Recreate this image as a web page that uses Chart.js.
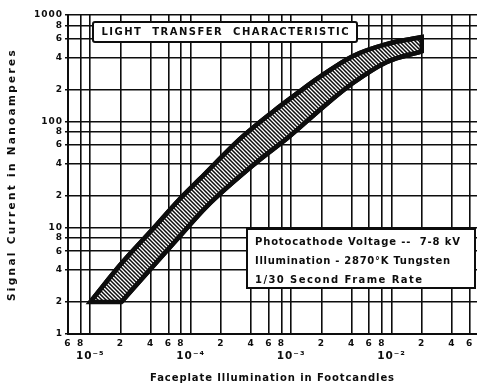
<!DOCTYPE html>
<html><head><meta charset="utf-8">
<script src="https://cdn.jsdelivr.net/npm/chart.js@4/dist/chart.umd.min.js"></script>
<style>html,body{margin:0;padding:0;background:#fff;}#wrap{width:477px;height:385px;position:relative;}</style>
</head><body><div id="wrap"><canvas id="c" width="477" height="385"></canvas></div>
<script>
// ---- data ----
const xTickValues = [6e-6, 8e-6, 1e-5, 2e-5, 4e-5, 6e-5, 8e-5, 1e-4, 2e-4, 4e-4, 6e-4, 8e-4, 1e-3, 2e-3, 4e-3, 6e-3, 8e-3, 1e-2, 2e-2, 4e-2, 6e-2];
const yTickValues = [1, 2, 4, 6, 8, 10, 20, 40, 60, 80, 100, 200, 400, 600, 800, 1000];
const upperX = [1.0e-5, 2.08e-5, 4.15e-5, 7.7e-5, 1.22e-4, 3.06e-4, 6.5e-4, 1.3e-3, 1.79e-3, 4.1e-3, 8.9e-3, 2.0e-2];
const upperY = [2, 4.7, 9.6, 18.4, 28.4, 67.7, 122, 200, 249, 410, 532, 620];
const lowerX = [2.04e-5, 4.55e-5, 7.7e-5, 1.44e-4, 4.5e-4, 9.6e-4, 2.06e-3, 4.1e-3, 8.9e-3, 2.0e-2];
const lowerY = [2, 4.7, 8.2, 15.8, 41, 72, 135, 228, 360, 455];
const chartTitle = 'LIGHT  TRANSFER  CHARACTERISTIC';
const noteLines = ['Photocathode Voltage --  7-8 kV', 'Illumination - 2870\u00B0K Tungsten', '1/30 Second Frame Rate'];
const xTitle = 'Faceplate Illumination in Footcandles';
const yTitle = 'Signal Current in Nanoamperes';
const supers = {'-':'\u207B','0':'\u2070','1':'\u00B9','2':'\u00B2','3':'\u00B3','4':'\u2074','5':'\u2075','6':'\u2076','7':'\u2077','8':'\u2078','9':'\u2079'};

const FONT = '"DejaVu Sans", sans-serif';
const INK = '#0d0d0d';

function mant(v){ const e = Math.floor(Math.log10(v) + 1e-9); return {e, m: Math.round(v / Math.pow(10, e))}; }

function hatch(ctx){
  const c = document.createElement('canvas'); c.width = 4; c.height = 4;
  const g = c.getContext('2d');
  g.fillStyle = INK; g.fillRect(0,0,4,4);
  g.strokeStyle = '#fff'; g.lineWidth = 1.3; g.beginPath();
  g.moveTo(-1,-1); g.lineTo(5,5); g.moveTo(-1,3); g.lineTo(1,5); g.moveTo(3,-1); g.lineTo(5,1);
  g.stroke();
  return ctx.createPattern(c, 'repeat');
}

function spacedTitle(scale, target){
  if (scale._spacedWrapped) return;
  const orig = scale.drawTitle.bind(scale);
  scale.drawTitle = function(){
    const ctx = this.ctx, o = this.options.title;
    ctx.save();
    ctx.font = `${o.font.weight} ${o.font.size}px ${o.font.family}`;
    ctx.letterSpacing = '0px';
    const w = ctx.measureText(o.text).width;
    ctx.restore();
    const prev = ctx.letterSpacing;
    ctx.letterSpacing = ((target - w) / o.text.length).toFixed(2) + 'px';
    orig();
    ctx.letterSpacing = prev;
  };
  scale._spacedWrapped = true;
}

const bandPlugin = {
  id: 'band',
  beforeDraw(chart){
    chart.ctx.letterSpacing = '1px';
    spacedTitle(chart.scales.x, 245);
    spacedTitle(chart.scales.y, 253);
  },
  beforeDatasetsDraw(chart){
    const ctx = chart.ctx, area = chart.chartArea;
    const up = chart.getDatasetMeta(0).dataset, lo = chart.getDatasetMeta(1).dataset;
    up.updateControlPoints(area, 'x'); lo.updateControlPoints(area, 'x');
    ctx.save();
    ctx.beginPath();
    up.pathSegment(ctx, up.segments[0], {move: true});
    lo.pathSegment(ctx, lo.segments[0], {move: false, reverse: true});
    ctx.closePath();
    ctx.fillStyle = hatch(ctx);
    ctx.fill();
    ctx.lineWidth = 4.5; ctx.lineJoin = 'miter'; ctx.strokeStyle = INK; ctx.stroke();
    ctx.restore();
  },
  afterDraw(chart){
    const ctx = chart.ctx, a = chart.chartArea;
    ctx.save();
    // title box
    const tx = a.left + 25, ty = a.top + 7, tw = 264, th = 20;
    ctx.fillStyle = '#fff'; ctx.strokeStyle = INK; ctx.lineWidth = 2;
    ctx.beginPath(); ctx.roundRect(tx, ty, tw, th, 2); ctx.fill(); ctx.stroke();
    ctx.fillStyle = INK; ctx.font = 'bold 10px ' + FONT; ctx.textBaseline = 'middle'; ctx.textAlign = 'left';
    ctx.letterSpacing = '0px';
    const w0 = ctx.measureText(chartTitle).width;
    const sp = (247 - w0) / (chartTitle.length - 1);
    ctx.letterSpacing = sp.toFixed(2) + 'px';
    ctx.fillText(chartTitle, tx + (tw - 247) / 2, ty + th / 2 + 0.5);
    // note box
    const nx = a.left + 179, ny = a.top + 214, nw = 228, nh = 59;
    ctx.fillStyle = '#fff'; ctx.lineWidth = 2;
    ctx.beginPath(); ctx.rect(nx, ny, nw, nh); ctx.fill(); ctx.stroke();
    ctx.fillStyle = INK; ctx.font = 'bold 10px ' + FONT;
    const targets = [205, 195, 167];
    noteLines.forEach((t, i) => {
      ctx.letterSpacing = '0px';
      const w = ctx.measureText(t).width;
      ctx.letterSpacing = ((targets[i] - w) / (t.length - 1)).toFixed(2) + 'px';
      ctx.fillText(t, nx + 8, ny + 13 + i * 19);
    });
    ctx.restore();
  }
};

const ds = (xs, ys) => xs.map((x, i) => ({x, y: ys[i]}));
const isDecade = v => mant(v).m === 1;

new Chart(document.getElementById('c'), {
  type: 'scatter',
  data: { datasets: [
    { label: 'upper', data: ds(upperX, upperY), showLine: true, borderColor: INK, borderWidth: 4.5, pointRadius: 0, cubicInterpolationMode: 'monotone', fill: false },
    { label: 'lower', data: ds(lowerX, lowerY), showLine: true, borderColor: INK, borderWidth: 4.5, pointRadius: 0, cubicInterpolationMode: 'monotone', fill: false }
  ]},
  options: {
    responsive: false, devicePixelRatio: 1, animation: false,
    layout: { padding: { top: 15, right: 0, left: 0, bottom: 0 } },
    plugins: { legend: { display: false }, tooltip: { enabled: false } },
    scales: {
      x: {
        type: 'logarithmic', min: 6e-6, max: 0.071,
        afterBuildTicks: s => { s.ticks = xTickValues.map(v => ({value: v})); },
        afterFit: s => { s.height = 51; },
        grid: { color: INK, lineWidth: 1.6, drawTicks: false },
        border: { display: true, color: INK, width: 2 },
        ticks: { autoSkip: false, maxRotation: 0, color: INK, padding: 3,
          font: c => ({ family: FONT, weight: 'bold', size: (c.tick && isDecade(c.tick.value)) ? 10.5 : 9, lineHeight: '13px' }),
          callback: v => { const {e, m} = mant(v); return m === 1 ? ['', '10' + String(e).split('').map(ch => supers[ch]).join('')] : String(m); } },
        title: { display: true, text: xTitle, color: INK, font: { family: FONT, weight: 'bold', size: 10 }, padding: { top: 0, bottom: 1 } }
      },
      y: {
        type: 'logarithmic', min: 1, max: 1000,
        afterBuildTicks: s => { s.ticks = yTickValues.map(v => ({value: v})); },
        afterFit: s => { s.width = 68; },
        grid: { color: INK, lineWidth: 1.6, tickLength: 3 },
        border: { display: true, color: INK, width: 2 },
        ticks: { autoSkip: false, color: INK, padding: 2,
          font: { family: FONT, weight: 'bold', size: 9 },
          callback: v => { const {m} = mant(v); return m === 1 ? String(v) : String(m); } },
        title: { display: true, text: yTitle, color: INK, font: { family: FONT, weight: 'bold', size: 10.5 }, padding: { top: 6, bottom: 0 } }
      }
    }
  },
  plugins: [bandPlugin]
});
</script></body></html>
